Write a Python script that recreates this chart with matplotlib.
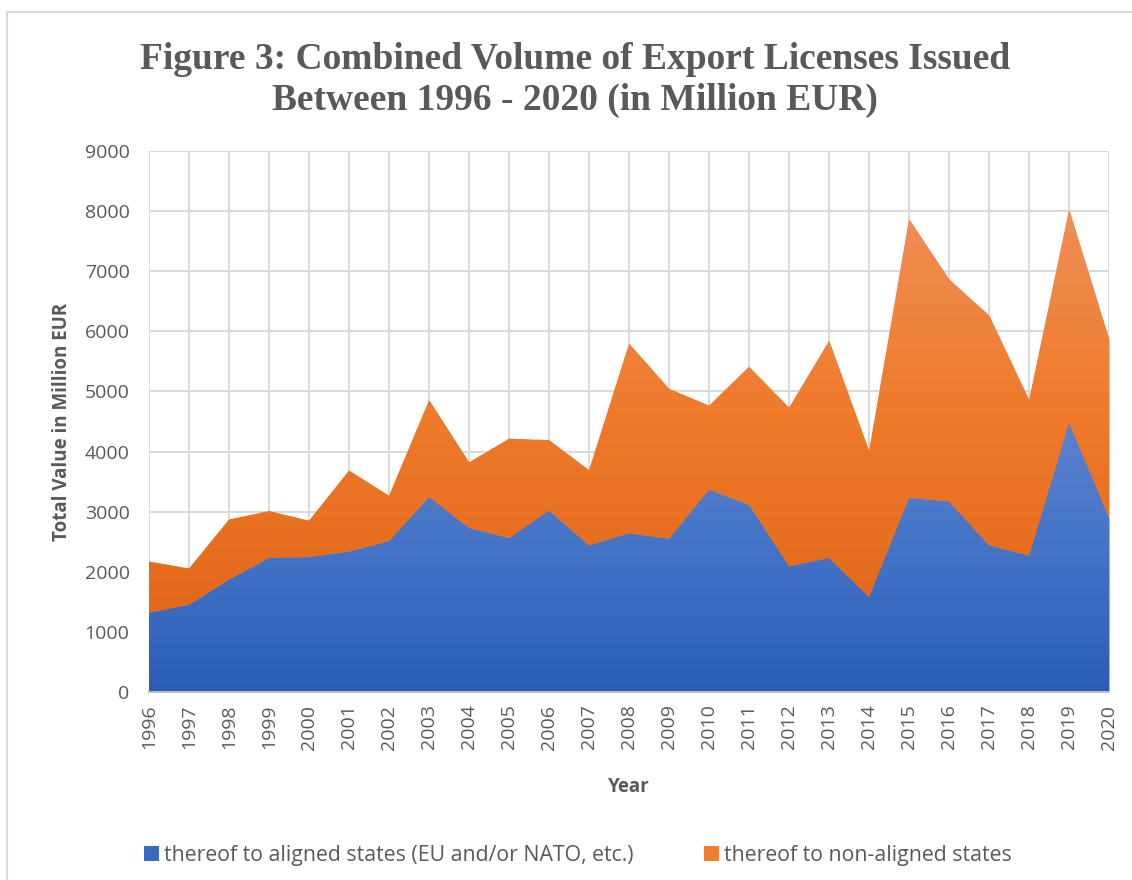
import numpy as np
import matplotlib
matplotlib.use("Agg")
import matplotlib.pyplot as plt
from matplotlib.colors import LinearSegmentedColormap
from matplotlib.patches import Rectangle

years = list(range(1996, 2021))
aligned = [1320, 1450, 1870, 2230, 2245, 2335, 2510, 3245, 2730, 2560,
           3020, 2440, 2640, 2550, 3365, 3115, 2090, 2230, 1580, 3230,
           3170, 2440, 2270, 4480, 2895]
non_aligned = [850, 605, 1000, 780, 605, 1350, 755, 1610, 1090, 1655,
               1170, 1250, 3155, 2495, 1400, 2295, 2640, 3610, 2425, 4635,
               3695, 3825, 2585, 3540, 2970]
labels = ["thereof to aligned states (EU and/or NATO, etc.)",
          "thereof to non-aligned states"]
title = "Figure 3: Combined Volume of Export Licenses Issued\nBetween 1996 - 2020 (in Million EUR)"

W, H = 1132, 880
fig = plt.figure(figsize=(W / 100, H / 100), dpi=100)
ax = fig.add_axes([149 / W, 1 - 692 / H, (1109 - 149) / W, (692 - 151) / H])

x = np.array(years)
a = np.array(aligned, dtype=float)
n = np.array(non_aligned, dtype=float)
tot = a + n

ax.set_xlim(1996, 2020)
ax.set_ylim(0, 9000)

ax.set_yticks(range(0, 9001, 1000))
ax.set_xticks(years)
ax.grid(True, color="#D9D9D9", lw=1.4, zorder=0)
ax.set_axisbelow(True)

blue_cmap = LinearSegmentedColormap.from_list("b", ["#2C5DB6", "#4272C6", "#5A83CD"])
orange_cmap = LinearSegmentedColormap.from_list("o", ["#E2681A", "#EF7B2B", "#F08E55"])

p1 = ax.fill_between(x, 0, a, color="#3A6AC0", lw=0, zorder=2, label=labels[0])
grad = np.linspace(0, 1, 256).reshape(-1, 1)
im1 = ax.imshow(grad, cmap=blue_cmap, aspect="auto", origin="lower",
                extent=[1996, 2020, 0, a.max()], zorder=2.1)
im1.set_clip_path(p1.get_paths()[0], transform=ax.transData)

p2 = ax.fill_between(x, a, tot, color="#ED7D31", lw=0, zorder=2, label=labels[1])
im2 = ax.imshow(grad, cmap=orange_cmap, aspect="auto", origin="lower",
                extent=[1996, 2020, a.min(), tot.max()], zorder=2.1)
im2.set_clip_path(p2.get_paths()[0], transform=ax.transData)
ax.set_xlim(1996, 2020)
ax.set_ylim(0, 9000)

for s in ["top", "right", "left"]:
    ax.spines[s].set_visible(False)
ax.spines["bottom"].set_color("#BFBFBF")
ax.spines["bottom"].set_linewidth(1.4)
ax.spines["bottom"].set_zorder(3)
ax.tick_params(axis="both", length=0, colors="#595959", labelsize=14)
ax.tick_params(axis="y", pad=14)
ax.tick_params(axis="x", pad=9)
ax.set_xticklabels([str(y) for y in years], rotation=90, family="Open Sans")
for t in ax.get_yticklabels():
    t.set_family("Open Sans")

ax.set_ylabel("Total Value in Million EUR", fontsize=13.5, fontweight="bold",
              color="#595959", family="Open Sans", labelpad=9)
ax.set_xlabel("Year", fontsize=13.5, fontweight="bold", color="#595959",
              family="Open Sans", labelpad=20)

fig.text(575 / W, 1 - 80 / H, title, ha="center", va="center",
         fontsize=27, fontweight="bold", color="#595959",
         family="Liberation Serif", linespacing=1.2)

leg = fig.legend(handles=[p1, p2], labels=labels, loc="center",
                 bbox_to_anchor=(578 / W, 1 - 855 / H), ncol=2, frameon=False,
                 handlelength=0.7, handleheight=0.7,
                 handletextpad=0.25, columnspacing=3.3,
                 prop={"family": "Open Sans", "size": 15.3})
for t in leg.get_texts():
    t.set_color("#595959")
leg.legend_handles[0].set_color("#3A6AC0")
leg.legend_handles[1].set_color("#ED7D31")

fig.patches.append(Rectangle((7 / W, -0.05), 1.2, 1 - 12 / H + 0.05,
                             transform=fig.transFigure, fill=False,
                             edgecolor="#D9D9D9", lw=1.5))

fig.savefig("out.png", dpi=100, facecolor="white")
